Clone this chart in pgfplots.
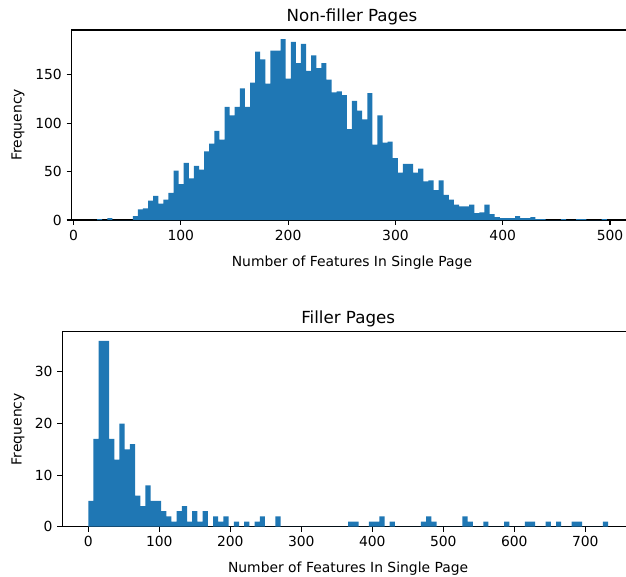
\documentclass[border=0pt]{standalone}
\usepackage{fontspec}
\setmainfont{DejaVu Sans}
\usepackage{pgfplots}
\pgfplotsset{compat=1.18}
\definecolor{c0}{RGB}{31,119,180}
\pgfplotsset{
  mpl/.style={
    scale only axis,
    anchor=south west,
    axis line style={line width=0.8pt},
    every tick/.style={line width=0.8pt, black},
    tick align=outside,
    major tick length=3.5pt,
    xtick pos=lower, ytick pos=left,
    /pgf/number format/assume math mode=true,
    /pgf/number format/1000 sep={},
    tick label style={font=\fontsize{10}{12}\selectfont},
    label style={font=\fontsize{10}{12}\selectfont},
    title style={font=\fontsize{12}{14}\selectfont, at={(0.5,1)}, anchor=base},
    ymin=0,
  }
}
\pgfplotstableread{
x y
22 1
26.75 0
31.5 2
36.25 0
41 0
45.75 0
50.5 0
55.25 4
60 11
64.75 12
69.5 20
74.25 25
79 17
83.75 21
88.5 28
93.25 51
98 37
102.75 59
107.5 43
112.25 56
117 52
121.75 71
126.5 79
131.25 92
136 83
140.75 117
145.5 108
150.25 117
155 136
159.75 117
164.5 142
169.25 174
174 166
178.75 141
183.5 175
188.25 175
193 187
197.75 146
202.5 184
207.25 162
212 182
216.75 154
221.5 170
226.25 157
231 162
235.75 145
240.5 132
245.25 133
250 129
254.75 94
259.5 123
264.25 113
269 104
273.75 131
278.5 78
283.25 108
288 80
292.75 81
297.5 64
302.25 49
307 58
311.75 58
316.5 49
321.25 53
326 40
330.75 41
335.5 31
340.25 41
345 26
349.75 21
354.5 16
359.25 14
364 14
368.75 16
373.5 7
378.25 8
383 16
387.75 6
392.5 3
397.25 2
402 2
406.75 2
411.5 4
416.25 2
421 2
425.75 3
430.5 1
435.25 1
440 0
444.75 0
449.5 0
454.25 1
459 0
463.75 0
468.5 1
473.25 1
478 0
482.75 0
487.5 0
492.25 1
497 0
}\nonfiller
\pgfplotstableread{
x y
0 5
7.32 17
14.64 36
21.96 36
29.28 17
36.6 13
43.92 20
51.24 15
58.56 16
65.88 6
73.2 4
80.52 8
87.84 5
95.16 5
102.48 3
109.8 2
117.12 1
124.44 3
131.76 4
139.08 1
146.4 3
153.72 1
161.04 3
168.36 0
175.68 2
183 1
190.32 2
197.64 0
204.96 1
212.28 0
219.6 1
226.92 0
234.24 1
241.56 2
248.88 0
256.2 0
263.52 2
270.84 0
366 1
373.32 1
380.64 0
395.28 1
402.6 1
409.92 2
417.24 0
424.56 1
431.88 0
468.48 1
475.8 2
483.12 1
490.44 0
527.04 2
534.36 1
541.68 0
556.32 1
563.64 0
585.6 1
592.92 0
614.88 1
622.2 1
629.52 0
644.16 1
651.48 0
658.8 1
666.12 0
680.76 1
688.08 1
695.4 0
724.68 1
732 0
}\filler
\begin{document}
\begin{tikzpicture}
\begin{axis}[mpl,
  at={(51.55pt,257pt)},
  width=403.7pt, height=136.8pt,
  xmin=-1.75, xmax=520.75, ymax=196.35,
  xtick={0,100,200,300,400,500},
  ytick={0,50,100,150},
  title={Non-filler Pages},
  xlabel={Number of Features In Single Page},
  ylabel={Frequency},
  xlabel style={at={(axis description cs:0.5,-0.2266)}, anchor=center},
  ylabel style={at={(axis description cs:-0.0954,0.5)}, anchor=center},
]
\addplot[ybar interval, fill=c0, draw=none] table[x=x, y=y] {\nonfiller};
\end{axis}
\begin{axis}[mpl,
  at={(44.86pt,36.2pt)},
  width=411.6pt, height=140.4pt,
  xmin=-36.6, xmax=768.6, ymax=37.8,
  xtick={0,100,200,300,400,500,600,700},
  ytick={0,10,20,30},
  title={Filler Pages},
  xlabel={Number of Features In Single Page},
  ylabel={Frequency},
  xlabel style={at={(axis description cs:0.5,-0.2172)}, anchor=center},
  ylabel style={at={(axis description cs:-0.0775,0.5)}, anchor=center},
]
\addplot[ybar interval, fill=c0, draw=none] table[x=x, y=y] {\filler};
\end{axis}
\pgfresetboundingbox
\path[use as bounding box] (0,0) rectangle (450.7pt,415.4pt);
\end{tikzpicture}
\end{document}
